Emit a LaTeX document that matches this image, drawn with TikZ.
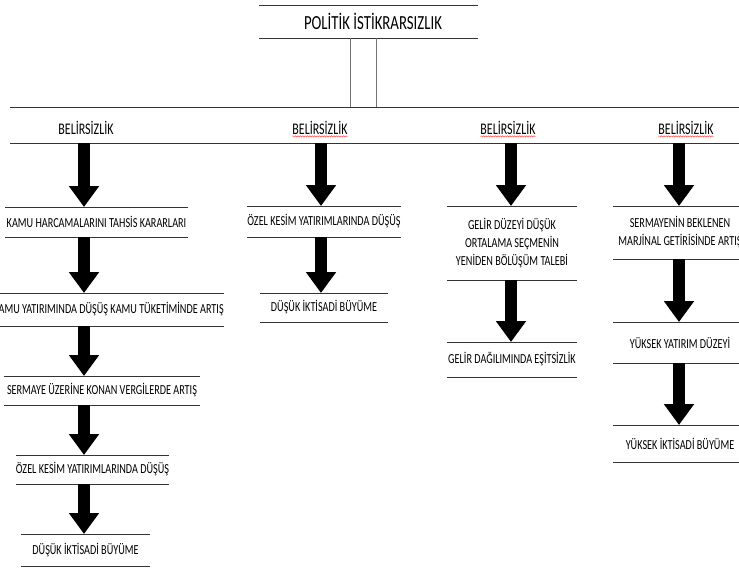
\documentclass[tikz,border=0pt]{standalone}
\usepackage{fontspec}
\setmainfont{Carlito}[FakeStretch=0.74]
\usetikzlibrary{arrows.meta,decorations.pathmorphing,positioning}
\tikzset{
	band/.style={inner sep=0, outer sep=0, text=black, align=center, font=\fontsize{13.8}{18}\selectfont},
	head/.style={inner sep=0, outer sep=0, text=black, font=\fontsize{16.2}{18}\selectfont},
	rule/.style={draw=black!80, line width=0.8pt},
	post/.style={draw=black!55, line width=0.8pt},
	bigarrow/.style={line width=12pt, -{Triangle[width=29pt,length=21pt]}, black},
	squiggle/.style={draw=red!70, line width=0.5pt, decorate, decoration={snake, amplitude=0.6pt, segment length=2.4pt}}
}
\begin{document}
\begin{tikzpicture}[x=1pt, y=-1pt]
	\useasboundingbox (0,0) rectangle (739,568);
	
	% top
	\node[band, minimum width=219pt, minimum height=33pt, font=\fontsize{20}{22}\selectfont] (T) at (368.5,21.5) {\hspace{9pt}POLİTİK İSTİKRARSIZLIK};
	\node[band, minimum width=732pt, minimum height=36pt] (U) at (376,125) {};
	\node[head] (B1) at (86,128) {BELİRSİZLİK};
	\node[head] (B2) at (320,128) {BELİRSİZLİK};
	\node[head] (B3) at (508,128) {BELİRSİZLİK};
	\node[head] (B4) at (686,128) {BELİRSİZLİK};
	
	\coordinate (c1) at (84,0);
	\coordinate (c2) at (321,0);
	\coordinate (c3) at (511,0);
	\coordinate (c4) at (679,0);
	
	% column 1
	\node[band, minimum width=183pt, minimum height=30pt] (K1) at (96.5,222) {KAMU HARCAMALARINI TAHSİS KARARLARI};
	\node[band, minimum width=229pt, minimum height=33pt] (K2) at (108.5,309.5) {KAMU YATIRIMINDA DÜŞÜŞ KAMU TÜKETİMİNDE ARTIŞ};
	\node[band, minimum width=196pt, minimum height=29pt] (K3) at (102,390.5) {SERMAYE ÜZERİNE KONAN VERGİLERDE ARTIŞ};
	\node[band, minimum width=153pt, minimum height=29pt] (K4) at (92.5,469.5) {ÖZEL KESİM YATIRIMLARINDA DÜŞÜŞ};
	\node[band, minimum width=129pt, minimum height=32pt] (K5) at (85.5,550) {DÜŞÜK İKTİSADİ BÜYÜME};
	
	% column 2
	\node[band, minimum width=128pt, minimum height=31pt] (O1) at (324,221.5) {ÖZEL KESİM YATIRIMLARINDA DÜŞÜŞ};
	\node[band, minimum width=128pt, minimum height=29pt] (O2) at (324,307.5) {DÜŞÜK İKTİSADİ BÜYÜME};
	
	% column 3
	\node[band, minimum width=130pt, minimum height=74pt] (G1) at (512,243) {GELİR DÜZEYİ DÜŞÜK\\ORTALAMA SEÇMENİN\\YENİDEN BÖLÜŞÜM TALEBİ};
	\node[band, minimum width=130pt, minimum height=35pt] (G2) at (512,359.5) {GELİR DAĞILIMINDA EŞİTSİZLİK};
	
	% column 4
	\node[band, minimum width=134pt, minimum height=53pt] (S1) at (680,232.5) {SERMAYENİN BEKLENEN\\MARJİNAL GETİRİSİNDE ARTIŞ};
	\node[band, minimum width=134pt, minimum height=41pt] (S2) at (680,342.5) {YÜKSEK YATIRIM DÜZEYİ};
	\node[band, minimum width=134pt, minimum height=37pt] (S3) at (680,443.5) {YÜKSEK İKTİSADİ BÜYÜME};
	
	\foreach \n in {T,U,K1,K2,K3,K4,K5,O1,O2,G1,G2,S1,S2,S3}
		\draw[rule] (\n.north west) -- (\n.north east) (\n.south west) -- (\n.south east);
	
	\draw[post] ([xshift=-18.5pt]T.south) -- ([xshift=-18.5pt]T.south |- U.north);
	\draw[post] ([xshift=7.5pt]T.south) -- ([xshift=7.5pt]T.south |- U.north);
	
	\foreach \b in {B2,B3,B4}
		\draw[squiggle] ([yshift=-1.8pt]\b.base west) -- ([yshift=-1.8pt]\b.base east);
	
	\foreach \a/\b/\c in {U/K1/c1,K1/K2/c1,K2/K3/c1,K3/K4/c1,K4/K5/c1,U/O1/c2,O1/O2/c2,U/G1/c3,G1/G2/c3,U/S1/c4,S1/S2/c4,S2/S3/c4}
		\draw[bigarrow] (\a.south -| \c) -- (\b.north -| \c);
\end{tikzpicture}
\end{document}
